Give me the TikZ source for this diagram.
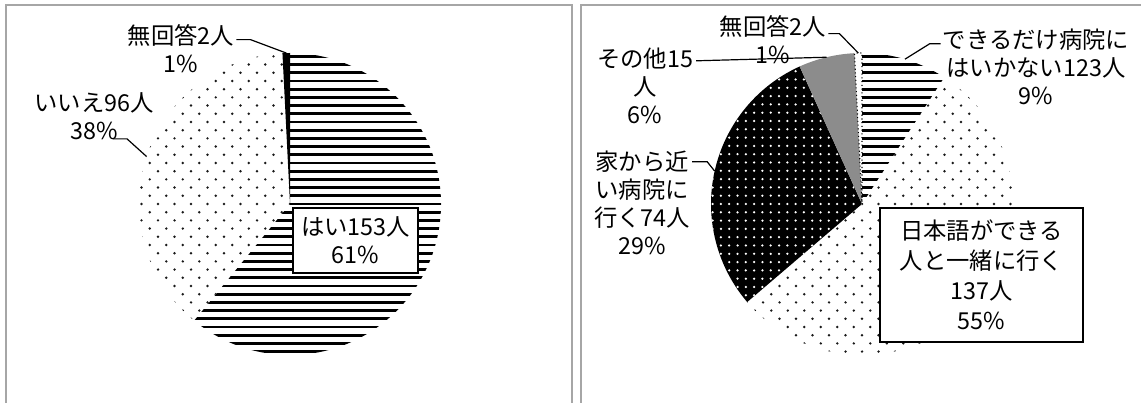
\documentclass[tikz,border=0pt]{standalone}
\usepackage{fontspec}
\setmainfont{Noto Sans CJK JP}

\begin{document}
\begin{tikzpicture}[x=0.75pt,y=0.75pt,
  lbl/.style={align=center,inner sep=0pt,font=\fontsize{17.5}{21}\selectfont},
  box/.style={lbl,draw,fill=white,line width=1.1pt},
  leader/.style={line width=0.9pt},
  hline/.style={line width=2.1pt},
  dot/.style={fill=black!90},
  frame/.style={draw=black!35,line width=1.3pt}]
\useasboundingbox (0,0) rectangle (1141,403);

\draw[frame] (6,0) -- (6,398) -- (572,398) -- (572,0); % левая рамка
\draw[frame] (1141,398) -- (581,398) -- (581,0); % правая рамка

% левая диаграмма
\coordinate (cL) at (290,199);
\begin{scope} % はい
\clip (cL) -- ++(90:151) arc[start angle=90,end angle=-129.4,radius=151] -- cycle;
\foreach \k in {-19,...,19} \draw[hline] ([shift={(-160,\k*8.2)}]cL) -- ++(320,0);
\end{scope}
\begin{scope} % いいえ
\clip (cL) -- ++(230.6:151) arc[start angle=230.6,end angle=92.87,radius=151] -- cycle;
\foreach \j in {-19,...,19} \foreach \i in {-10,...,1}
  \fill[dot] ([shift={({\i*16.5+mod(\j,2)*8.25},\j*8.2)}]cL) circle[radius=1.35];
\end{scope}
\fill (cL) -- ++(92.87:151) arc[start angle=92.87,end angle=90,radius=151] -- cycle; % 無回答

\node[lbl] (nolL) at (181,354) {無回答2人\\1\%};
\node[lbl] (iieL) at (94,287) {いいえ96人\\38\%};
\node[box,minimum width=93.75pt,minimum height=48.75pt] (haiL) at (355.5,162.5) {はい153人\\61\%};

\coordinate (nolLend) at ([shift={(91.4:151)}]cL);
\coordinate (iieLend) at ([shift={(161.7:151)}]cL);
\draw[leader] ([shift={(2,-15)}]nolL.north east) -- ++(14,0) -- (nolLend);
\draw[leader] ([shift={(19,1)}]iieL.south) -- ++(14,0) -- (iieLend);

% правая диаграмма
\coordinate (cR) at (862,199);
\begin{scope} % できるだけ病院にはいかない
\clip (cR) -- ++(90:151) arc[start angle=90,end angle=57,radius=151] -- cycle;
\foreach \k in {0,...,19} \draw[hline] ([shift={(0,\k*8.2)}]cR) -- ++(90,0);
\end{scope}
\begin{scope} % 日本語ができる人と一緒に行く
\clip (cR) -- ++(57:151) arc[start angle=57,end angle=-139.5,radius=151] -- cycle;
\foreach \j in {-19,...,18} \foreach \i in {-7,...,10}
  \fill[dot] ([shift={({\i*16.5+mod(\j,2)*8.25},\j*8.2)}]cR) circle[radius=1.35];
\end{scope}
\begin{scope} % 家から近い病院に行く
\clip (cR) -- ++(220.5:151) arc[start angle=220.5,end angle=114.4,radius=151] -- cycle;
\fill ([shift={(-160,-160)}]cR) rectangle ++(165,320);
\foreach \j in {-18,...,18} \foreach \i in {-19,...,1}
  \fill[white] ([shift={(\i*8.3,\j*8.3)}]cR) circle[radius=1.25];
\end{scope}
\fill[black!45] (cR) -- ++(114.4:151) arc[start angle=114.4,end angle=92.87,radius=151] -- cycle; % その他
\draw[dotted,line width=0.8pt] (cR) -- ++(92.87:151) arc[start angle=92.87,end angle=90,radius=151] -- cycle; % 無回答

\node[lbl] (nolR) at (773,363) {無回答2人\\1\%};
\node[lbl] (dkdR) at (1036,336) {できるだけ病院に\\はいかない123人\\9\%};
\node[lbl] (sotaR) at (645,317) {その他15\\人\\6\%};
\node[lbl] (ieR) at (642,200) {家から近\\い病院に\\行く74人\\29\%};
\node[box,minimum width=152.25pt,minimum height=100.5pt,font=\fontsize{17.5}{22.5}\selectfont] (nihR) at (981.5,128) {日本語ができる\\人と一緒に行く\\137人\\55\%};

\coordinate (nolRend) at ([shift={(91.4:151)}]cR);
\coordinate (dkdRend) at ([shift={(73.5:151)}]cR);
\coordinate (sotaRend) at ([shift={(103.6:151)}]cR);
\coordinate (ieRend) at ([shift={(167.4:151)}]cR);
\draw[leader] ([shift={(2,-18)}]nolR.north east) -- ++(11,0) -- (nolRend);
\draw[leader] ([shift={(-2,-15)}]dkdR.north west) -- ++(-11,0) -- (dkdRend);
\draw[leader] ([shift={(3,-13)}]sotaR.north east) -- (sotaRend);
\draw[leader] ([shift={(2,-11)}]ieR.north east) -- ++(15,0) -- (ieRend);

\end{tikzpicture}
\end{document}
